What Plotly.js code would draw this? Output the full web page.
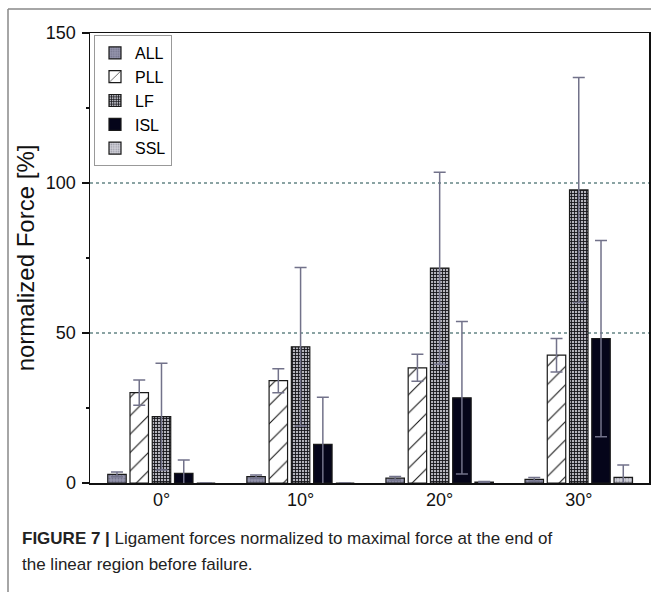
<!DOCTYPE html>
<html>
<head>
<meta charset="utf-8">
<script src="https://cdn.plot.ly/plotly-3.0.1.min.js"></script>
<style>
html,body{margin:0;padding:0;background:#fff;}
#chart{width:651px;height:592px;}
</style>
</head>
<body>
<div id="chart"></div>
<script>
// ---- data ----
const categories = ["0°", "10°", "20°", "30°"];
const seriesNames = ["ALL", "PLL", "LF", "ISL", "SSL"];
const valuesALL = [2.9, 2.1, 1.6, 1.2];
const errorsALL = [0.8, 0.6, 0.6, 0.6];
const valuesPLL = [30.1, 34.1, 38.4, 42.6];
const errorsPLL = [4.2, 4.0, 4.5, 5.6];
const valuesLF = [22.1, 45.4, 71.6, 97.7];
const errorsLF = [17.8, 26.4, 32.0, 37.5];
const valuesISL = [3.2, 12.9, 28.4, 48.1];
const errorsISL = [4.5, 15.7, 25.4, 32.7];
const valuesSSL = [0, 0, 0.3, 1.9];
const errorsSSL = [0, 0, 0.2, 4.1];
const yTicks = [0, 50, 100, 150];
const yTitle = "normalized Force [%]";
const captionBold = "FIGURE 7 |";
const captionLine1 = " Ligament forces normalized to maximal force at the end of";
const captionLine2 = "the linear region before failure.";

// ---- layout geometry ----
const W = 651, H = 592;
const M = {l: 90, r: 2, t: 33, b: 109};
const pw = W - M.l - M.r, ph = H - M.t - M.b;
const px = x => (x - M.l) / pw;
const py = y => 1 - (y - M.t) / ph;

const outline = {color: '#1a1a1a', width: 1.2};
function errs(arr) {
  return {type: 'data', array: arr, visible: true, color: '#72728a', thickness: 1.5, width: 6};
}
const styles = [
  {color: '#8e8ea6', pattern: {shape: '.', fgcolor: '#74748c', bgcolor: '#9494ac', size: 3, solidity: 0.3}},
  {color: '#ffffff', pattern: {shape: '/', fgcolor: '#111', bgcolor: '#fff', size: 13, solidity: 0.08}},
  {color: '#777', pattern: {shape: '+', fgcolor: '#141418', bgcolor: '#b4b4bc', size: 3, solidity: 0.5}},
  {color: '#05051a'},
  {color: '#c4c4cc', pattern: {shape: '.', fgcolor: '#9a9aa6', bgcolor: '#d0d0d8', size: 3, solidity: 0.3}}
];
const vals = [valuesALL, valuesPLL, valuesLF, valuesISL, valuesSSL];
const errArr = [errorsALL, errorsPLL, errorsLF, errorsISL, errorsSSL];

const traces = seriesNames.map((n, i) => ({
  type: 'bar', name: n, x: categories, y: vals[i],
  marker: Object.assign({line: outline}, styles[i]),
  error_y: errs(errArr[i])
}));

const layout = {
  width: W, height: H,
  margin: M,
  paper_bgcolor: '#fff', plot_bgcolor: '#fff',
  font: {family: 'Liberation Sans, Arial, sans-serif', color: '#111'},
  barmode: 'group', bargap: 0.2, bargroupgap: 0.17,
  showlegend: true,
  legend: {
    x: px(94), y: py(35), xanchor: 'left', yanchor: 'top',
    bgcolor: '#fff', bordercolor: '#999', borderwidth: 1,
    font: {size: 16, family: 'Liberation Sans, Arial, sans-serif', color: '#000'},
    tracegroupgap: 0, itemwidth: 30
  },
  xaxis: {
    type: 'category', range: [-0.514, 3.505],
    showline: true, linecolor: '#111', linewidth: 1.5, mirror: true,
    ticks: '', tickfont: {size: 18}, showgrid: false, zeroline: false
  },
  yaxis: {
    range: [0, 150], tickvals: yTicks,
    showline: true, linecolor: '#111', linewidth: 1.5, mirror: true,
    ticks: 'outside', ticklen: 7, tickwidth: 1.5, tickcolor: '#111',
    tickfont: {size: 18}, ticklabelstandoff: 2,
    minor: {dtick: 25, ticks: 'outside', ticklen: 3, tickwidth: 1.2, tickcolor: '#111', showgrid: false},
    showgrid: true, gridcolor: '#8aa3a3', griddash: 'dot', gridwidth: 1.2,
    zeroline: false,
    title: {text: yTitle, font: {size: 24}, standoff: 4}
  },
  shapes: [
    {type: 'line', xref: 'paper', yref: 'paper', x0: px(8), x1: px(8), y0: py(H + 5), y1: py(9), line: {color: '#888', width: 1.5}},
    {type: 'line', xref: 'paper', yref: 'paper', x0: px(8), x1: px(W + 5), y0: py(9), y1: py(9), line: {color: '#888', width: 1.5}}
  ],
  annotations: [
    {xref: 'paper', yref: 'paper', x: px(20), y: py(538), xanchor: 'left', yanchor: 'middle', showarrow: false,
     align: 'left', text: '<b>' + captionBold + '</b>' + captionLine1, font: {size: 17, color: '#222'}},
    {xref: 'paper', yref: 'paper', x: px(20), y: py(564), xanchor: 'left', yanchor: 'middle', showarrow: false,
     align: 'left', text: captionLine2, font: {size: 17, color: '#222'}}
  ]
};

Plotly.newPlot('chart', traces, layout, {displayModeBar: false, staticPlot: true});
</script>
</body>
</html>
